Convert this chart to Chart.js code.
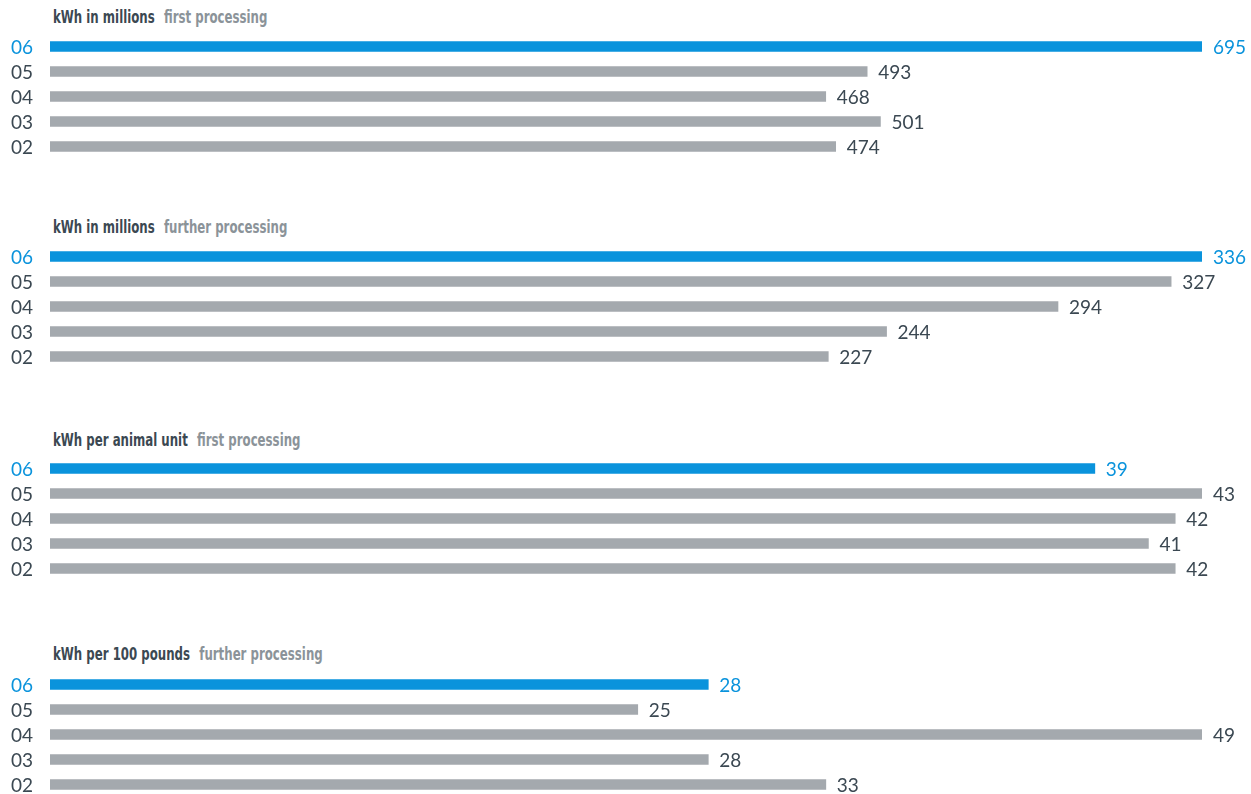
<!DOCTYPE html>
<html>
<head>
<meta charset="utf-8">
<script src="https://cdn.jsdelivr.net/npm/chart.js@4"></script>
<style>
  html, body { margin: 0; padding: 0; background: #fff; }
  #page { position: relative; width: 1251px; height: 794px; overflow: hidden; }
  .title {
    position: absolute; left: 53px;
    font-family: "Liberation Sans Narrow", "DejaVu Sans Condensed", "Roboto", sans-serif;
    font-weight: bold; font-size: 17px; color: #3b4852; white-space: nowrap;
    transform: scaleX(0.77); transform-origin: left top;
  }
  .title span { color: #8b9399; margin-left: 12px; }
  .panel { position: absolute; left: 0; width: 1251px; height: 125px; }
</style>
</head>
<body>
<div id="page">
  <div class="title" style="top:7px">kWh in millions<span>first processing</span></div>
  <div class="panel" style="top:33.5px"><canvas id="c1"></canvas></div>
  <div class="title" style="top:217px">kWh in millions<span>further processing</span></div>
  <div class="panel" style="top:243.5px"><canvas id="c2"></canvas></div>
  <div class="title" style="top:430px">kWh per animal unit<span>first processing</span></div>
  <div class="panel" style="top:455.5px"><canvas id="c3"></canvas></div>
  <div class="title" style="top:644px">kWh per 100 pounds<span>further processing</span></div>
  <div class="panel" style="top:671.5px"><canvas id="c4"></canvas></div>
</div>
<script>
var years = ['06', '05', '04', '03', '02'];
var firstMillions = [695, 493, 468, 501, 474];
var furtherMillions = [336, 327, 294, 244, 227];
var firstPerUnit = [39, 43, 42, 41, 42];
var furtherPer100 = [28, 25, 49, 28, 33];

var BLUE = '#0a93dc';
var GRAY = '#a4a9ae';
var TEXT = '#3b4852';
var LABEL_FONT = '19px Lato, "Open Sans", sans-serif';

// year labels on the left, values at the end of each bar
var barLabels = {
    id: 'barLabels',
    afterDatasetsDraw: function(chart) {
        var ctx = chart.ctx;
        var meta = chart.getDatasetMeta(0);
        var values = chart.data.datasets[0].data;
        ctx.save();
        ctx.font = LABEL_FONT;
        ctx.textBaseline = 'middle';
        meta.data.forEach(function(bar, i) {
            ctx.fillStyle = i === 0 ? BLUE : TEXT;
            ctx.textAlign = 'right';
            ctx.fillText(chart.data.labels[i], 33, bar.y + 1);
            ctx.textAlign = 'left';
            ctx.fillText(values[i], bar.x + 11, bar.y + 1);
        });
        ctx.restore();
    }
};

function makePanel(id, values) {
    var colors = values.map(function(v, i) { return i === 0 ? BLUE : GRAY; });
    return new Chart(document.getElementById(id), {
        type: 'bar',
        data: {
            labels: years,
            datasets: [{
                data: values,
                backgroundColor: colors,
                borderWidth: 0,
                barThickness: 10
            }]
        },
        options: {
            indexAxis: 'y',
            responsive: true,
            maintainAspectRatio: false,
            animation: false,
            layout: { padding: { left: 50, right: 49, top: 0, bottom: 0 } },
            scales: {
                x: { display: false, min: 0, max: Math.max.apply(null, values) },
                y: { display: false }
            },
            plugins: {
                legend: { display: false },
                tooltip: { enabled: false }
            }
        },
        plugins: [barLabels]
    });
}

makePanel('c1', firstMillions);
makePanel('c2', furtherMillions);
makePanel('c3', firstPerUnit);
makePanel('c4', furtherPer100);
</script>
</body>
</html>
